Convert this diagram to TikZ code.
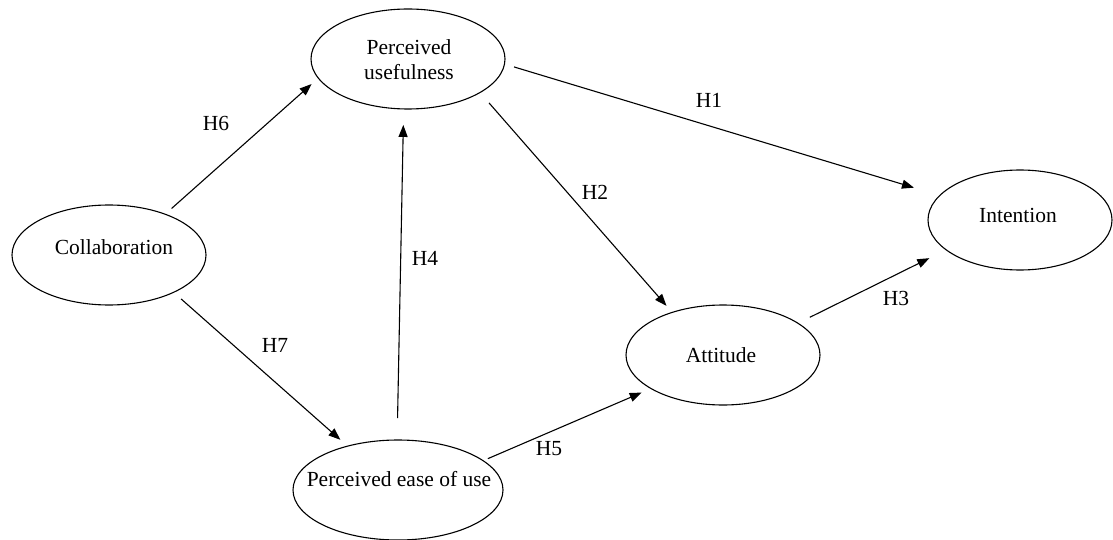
\documentclass[tikz,border=0pt]{standalone}
\usepackage{fontspec}
\setmainfont{Liberation Serif}
\usetikzlibrary{shapes.geometric,arrows.meta}
\tikzset{
  ell/.style={draw, ellipse, line width=1.1pt, inner sep=0pt, outer sep=0pt},
  txt/.style={font=\fontsize{21.5}{25}\selectfont, inner sep=0pt, align=center},
  conn/.style={line width=1.1pt, -{Triangle[length=12pt,width=9pt]}},
}
\begin{document}
\begin{tikzpicture}[x=1pt,y=-1pt]
\useasboundingbox (0,0) rectangle (1113,540);
% ellipses
\node[ell, minimum width=194pt, minimum height=100pt] (pu)  at (408,59)  {};
\node[ell, minimum width=194pt, minimum height=100pt] (col) at (109,255) {};
\node[ell, minimum width=184pt, minimum height=100pt] (int) at (1020,220) {};
\node[ell, minimum width=194pt, minimum height=100pt] (att) at (723,355) {};
\node[ell, minimum width=210pt, minimum height=100pt] (peu) at (398,490) {};
% texts
\node[txt] (tpu)  at (409,59.5) {Perceived\\usefulness};
\node[txt] (tcol) at (114,247) {Collaboration};
\node[txt] (tint) at (1018,215) {Intention};
\node[txt] (tatt) at (721,355) {Attitude};
\node[txt] (tpeu) at (399,479) {Perceived ease of use};
% connectors
\draw[conn, shorten <=8.6pt, shorten >=9pt]  (col.36)    -- (pu.192.8);
\draw[conn, shorten <=10pt, shorten >=9.6pt] (col.330.4)  -- (peu.139.2);
\draw[conn, shorten <=22pt, shorten >=16pt]  (peu.91.6)  -- (pu.265.7);
\draw[conn, shorten <=10pt, shorten >=27pt]  (pu.357.3)  -- (int.163.8);
\draw[conn, shorten <=13.8pt, shorten >=8.7pt] (pu.335.4) -- (att.140.4);
\draw[conn, shorten <=5.2pt, shorten >=10.2pt] (peu.19)  -- (att.205.1);
\draw[conn, shorten <=13.3pt, shorten >=18.8pt] (att.23)  -- (int.202.9);
% labels
\node[txt] (h6) at (216,123) {H6};
\node[txt] (h7) at (275,345) {H7};
\node[txt] (h4) at (425,258) {H4};
\node[txt] (h1) at (709,100) {H1};
\node[txt] (h2) at (595,192) {H2};
\node[txt] (h5) at (549,449) {H5};
\node[txt] (h3) at (896,298) {H3};
\end{tikzpicture}
\end{document}
